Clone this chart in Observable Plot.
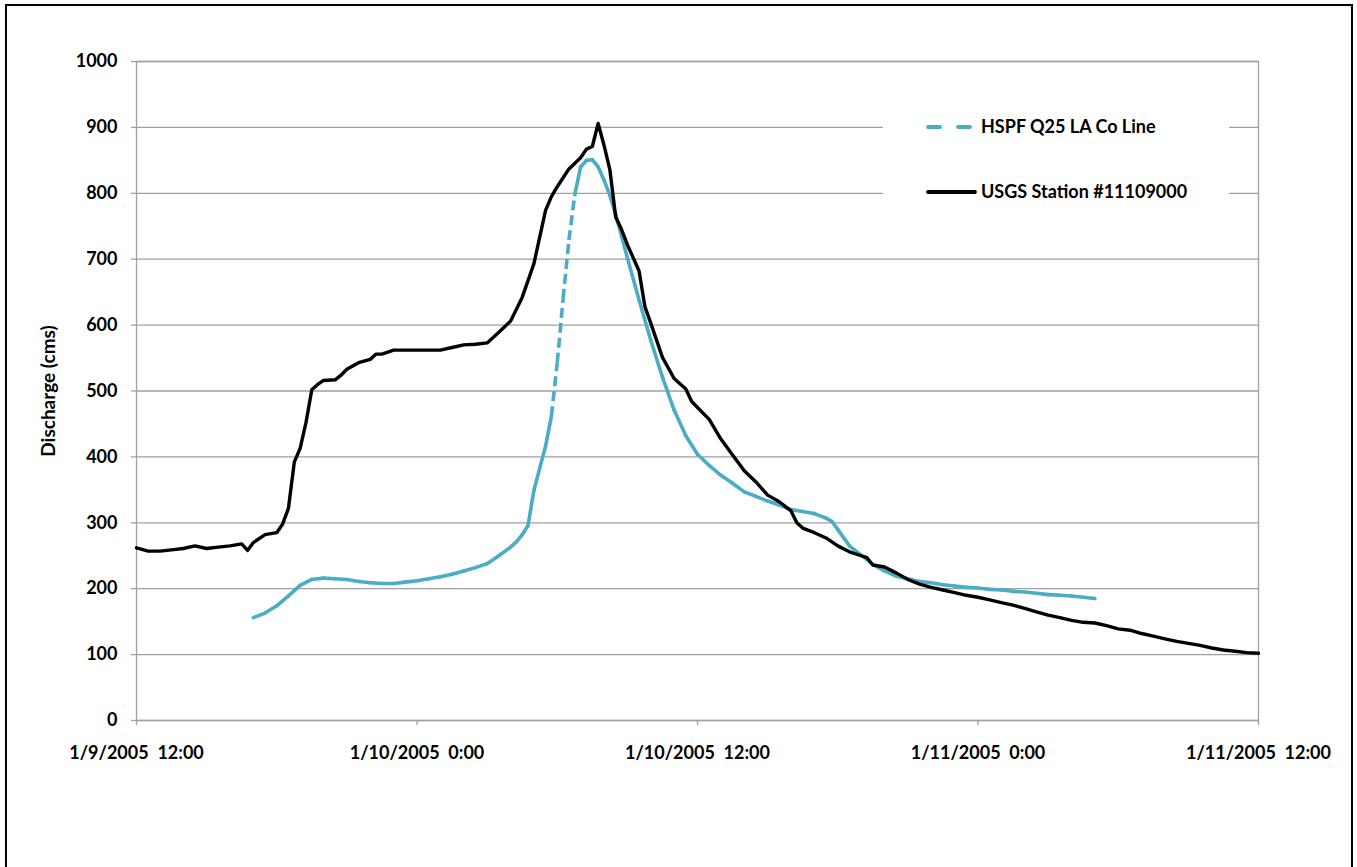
<!DOCTYPE html>
<html>
<head>
<meta charset="utf-8">
<script src="https://cdn.jsdelivr.net/npm/d3@7"></script>
<script src="https://cdn.jsdelivr.net/npm/@observablehq/plot@0.6"></script>
<style>
  html, body { margin: 0; padding: 0; background: #fff; overflow: hidden; }
  #wrap { position: relative; width: 1357px; height: 867px; font-family: Lato, "Liberation Sans", sans-serif; }
  #border { position: absolute; left: 5px; top: 4px; width: 1344px; height: 900px; border: 2px solid #000; pointer-events: none; }
  #legend { position: absolute; left: 883px; top: 95px; width: 346px; height: 130px; background: #fff; }
</style>
</head>
<body>
<div id="wrap">
  <div id="chart"></div>
  <div id="legend"></div>
  <div id="border"></div>
</div>
<script>
// Hydrograph start (hours below are counted from this instant, UTC)
const startTime = Date.UTC(2005, 0, 9, 12, 0);

// HSPF Q25 LA Co Line – modelled discharge (cms)
const hspfHours = [
  5, 5.5, 6, 6.5, 7, 7.5, 8, 8.5, 9, 9.5, 10, 10.5, 11, 11.5, 12, 12.5, 13, 13.5, 14, 14.5, 15, 15.5, 16,
  16.25, 16.5, 16.75, 17, 17.25, 17.5, 17.75, 18, 18.25, 18.5, 18.75, 19, 19.25, 19.5, 19.75, 20, 20.25, 20.5, 20.75,
  21, 21.5, 22, 22.5, 23, 23.5, 24, 24.5, 25, 25.5, 26, 26.5, 27, 27.5, 28, 28.5, 29, 29.5,
  29.75,
  30, 30.5, 31, 31.5, 32, 32.5, 33, 33.5, 34, 34.5, 35, 35.5, 36, 36.5, 37, 37.5, 38, 38.5, 39, 39.5, 40, 40.5, 41
];
const hspfValues = [
  156, 163, 174, 189, 205, 214, 216, 215, 214, 211, 209, 208, 208, 210, 212, 215, 218, 222, 227, 232, 238, 250, 263,
  271, 282, 296, 349, 383, 416, 462, 543, 640, 729, 798, 840, 850, 851, 840, 820, 797, 768, 735,
  702, 638, 577, 521, 471, 432, 404, 387, 372, 360, 347, 340, 333, 327, 320, 317, 314, 307,
  302,
  290, 265, 251, 237, 227, 219, 215, 211, 209, 206, 204, 202, 201, 199, 198, 196, 195, 193, 191, 190, 189, 187, 185
];

// USGS Station #11109000 – observed discharge (cms)
const usgsHours = [
  0, 0.5, 1, 1.5, 2, 2.5, 3, 3.5, 4, 4.5, 4.75, 5, 5.5, 6,
  6.25, 6.5, 6.75, 7, 7.25, 7.5, 7.75, 8, 8.5, 8.75, 9, 9.5, 10, 10.25, 10.5,
  11, 11.5, 12, 12.5, 13, 13.5, 14, 14.5, 15, 15.5, 16, 16.5, 17, 17.5, 17.75, 18, 18.5, 19,
  19.25, 19.5, 19.75, 20, 20.25, 20.5, 20.75, 21, 21.5, 21.75, 22, 22.5, 23, 23.5, 23.75, 24,
  24.5, 25, 25.5, 26, 26.5, 27, 27.5, 28, 28.25, 28.5, 29, 29.5, 30, 30.5, 31, 31.25, 31.5,
  32, 32.5, 33, 33.5, 34, 34.5, 35, 35.5, 36, 36.5, 37, 37.5, 38, 38.5, 39, 39.5, 40,
  40.5, 41, 41.5, 42, 42.5, 43, 43.5, 44, 44.5, 45, 45.5, 46, 46.5, 47, 47.5, 48
];
const usgsValues = [
  262, 257, 257, 259, 261, 265, 261, 263, 265, 268, 258, 270, 282, 285,
  298, 322, 392, 413, 452, 502, 510, 516, 517, 524, 533, 543, 548, 556, 556,
  562, 562, 562, 562, 562, 566, 570, 571, 573, 589, 606, 642, 693, 774, 795, 810, 837, 854,
  867, 871, 906, 873, 836, 764, 745, 722, 682, 628, 603, 551, 519, 503, 484, 475,
  457, 427, 403, 379, 362, 342, 332, 318, 300, 292, 285, 277, 265, 256, 250, 247, 236,
  233, 224, 214, 207, 202, 198, 194, 190, 187, 183, 179, 175, 170, 165, 160, 156, 152,
  149, 148, 144, 139, 137, 132, 128, 124, 120, 117, 114, 110, 107, 105, 103, 102
];

// Axis ticks
const yTicks = [0, 100, 200, 300, 400, 500, 600, 700, 800, 900, 1000];
const xTickHours = [0, 12, 24, 36, 48];
const xTickLabels = ["1/9/2005\u00a0\u00a012:00", "1/10/2005\u00a0\u00a00:00", "1/10/2005\u00a0\u00a012:00", "1/11/2005\u00a0\u00a00:00", "1/11/2005\u00a0\u00a012:00"];

// Series names and colours
const seriesNames = ["HSPF Q25 LA Co Line", "USGS Station #11109000"];
const hspfColor = "#4bacc6";
const usgsColor = "#000000";

const toDate = h => new Date(startTime + h * 3600e3);
const usgs = usgsHours.map((h, i) => ({t: toDate(h), v: usgsValues[i]}));

// HSPF is drawn segment by segment; segments rising faster than 250 cms/h are dashed
const hspfSegments = hspfHours.slice(1).map((h, i) => ({
  t1: toDate(hspfHours[i]), v1: hspfValues[i],
  t2: toDate(h), v2: hspfValues[i + 1],
  rate: (hspfValues[i + 1] - hspfValues[i]) / (h - hspfHours[i])
}));
const steep = s => s.rate > 250;

const xTickDates = xTickHours.map(toDate);
const gridGray = "#a0a0a0";
const font = "Lato, 'Liberation Sans', sans-serif";

const chart = Plot.plot({
  width: 1357,
  height: 867,
  marginLeft: 136,
  marginRight: 99,
  marginTop: 61,
  marginBottom: 147,
  style: {fontFamily: font, fontWeight: "bold", fontSize: "18px", color: "#000", background: "transparent", overflow: "visible"},
  x: {type: "utc", domain: [toDate(0), toDate(48)]},
  y: {domain: [0, 1000]},
  marks: [
    Plot.gridY(yTicks, {stroke: gridGray, strokeOpacity: 1, strokeWidth: 1.3}),
    Plot.frame({stroke: gridGray, strokeWidth: 1.3}),
    Plot.axisY(yTicks, {tickSize: 5, tickPadding: 14, stroke: gridGray, strokeWidth: 1.3, fill: "#000", label: null, tickFormat: d => String(d)}),
    Plot.axisX(xTickDates, {
      tickSize: 5, tickPadding: 21, stroke: gridGray, strokeWidth: 1.3, fill: "#000", label: null,
      tickFormat: d => xTickLabels[xTickDates.findIndex(t => +t === +d)]
    }),
    Plot.text(["Discharge (cms)"], {frameAnchor: "left", dx: -88, rotate: -90, textAnchor: "middle", fontSize: 19, fill: "#000"}),
    Plot.link(hspfSegments.filter(s => !steep(s)), {
      x1: "t1", y1: "v1", x2: "t2", y2: "v2",
      stroke: hspfColor, strokeWidth: 3.6, strokeLinecap: "round", strokeLinejoin: "round"
    }),
    Plot.link(hspfSegments.filter(steep), {
      x1: "t1", y1: "v1", x2: "t2", y2: "v2",
      stroke: hspfColor, strokeWidth: 3.6, strokeLinecap: "butt", strokeDasharray: "10,5"
    }),
    Plot.line(usgs, {x: "t", y: "v", stroke: usgsColor, strokeWidth: 3.4, strokeLinejoin: "round"})
  ]
});
document.getElementById("chart").append(chart);

// Legend box drawn over the upper-right gridlines
const legendSvg = d3.select("#legend").append("svg")
  .attr("width", 346).attr("height", 130)
  .style("font-family", font)
  .style("font-weight", "bold").style("font-size", "18px");
const rows = [
  {name: seriesNames[0], color: hspfColor, dash: "12,18", width: 3.8, y: 32},
  {name: seriesNames[1], color: usgsColor, dash: null, width: 3.8, y: 97}
];
rows.forEach(r => {
  legendSvg.append("line")
    .attr("x1", 45).attr("x2", r.dash ? 88 : 92).attr("y1", r.y).attr("y2", r.y)
    .attr("stroke", r.color).attr("stroke-width", r.width)
    .attr("stroke-linecap", "round")
    .attr("stroke-dasharray", r.dash);
  legendSvg.append("text")
    .attr("x", 98).attr("y", r.y).attr("dy", "0.35em")
    .attr("fill", "#000").text(r.name);
});
</script>
</body>
</html>
